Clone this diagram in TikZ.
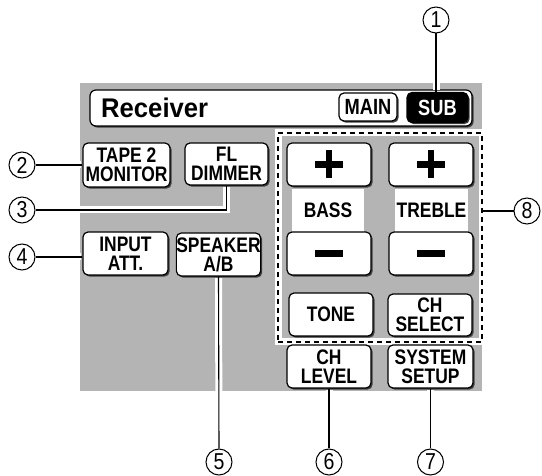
\documentclass[tikz,border=0pt]{standalone}
\usepackage{fontspec}
\setmainfont{Liberation Sans}
\newfontfamily\btnfont{Liberation Sans}[FakeStretch=0.83]
\newfontfamily\rcvfont{Liberation Sans}[FakeStretch=0.95]
\newfontfamily\numfont{Liberation Sans}[FakeStretch=0.85]
\usetikzlibrary{positioning,shadows}
\definecolor{panelgray}{RGB}{180,180,180}

\begin{document}
\begin{tikzpicture}[%
    x=1pt,y=-1pt,
    btn/.style={draw,fill=white,rounded corners=5pt,line width=1.2pt,align=center,
        inner sep=0pt,minimum width=84pt,minimum height=43pt,
        font={\btnfont\bfseries\fontsize{21}{19}\selectfont},
        drop shadow={shadow xshift=1.6pt,shadow yshift=-1.6pt,fill=black!75,opacity=1}},
    lblbg/.style={fill=white,inner sep=0pt,minimum width=72pt,minimum height=43pt,
        font={\btnfont\bfseries\fontsize{21}{19}\selectfont}},
    numcirc/.style={circle,draw,fill=white,line width=1pt,minimum size=26pt,inner sep=0pt,
        font={\numfont\fontsize{23}{23}\selectfont}},
    grpbox/.style={draw,line width=1.2pt,dash pattern=on 5pt off 4pt,inner sep=0pt,
        preaction={draw=white,solid,line width=7pt}},
    signbar/.style={line width=6.5pt},
    halo/.style={white,line width=7pt,shorten <=1.5pt,shorten >=1.5pt},
    lead/.style={black,line width=1.1pt}
]
\useasboundingbox (0,0) rectangle (542,476);

% ---------------- Panel and title bar ----------------
\fill[panelgray] (80,83) rectangle (482,391);

\node[btn,minimum width=382pt,minimum height=36pt,rounded corners=6pt] (title) at (281,108) {};
\node[anchor=west,inner sep=0pt,font={\rcvfont\bfseries\fontsize{27}{27}\selectfont}] (rcv) at (101,108) {Receiver};
\node[btn,minimum width=58pt,minimum height=28pt,font={\btnfont\bfseries\fontsize{22}{22}\selectfont}] (main) at (368,107) {MAIN};
\node[btn,fill=black,text=white,minimum width=61pt,minimum height=30pt,font={\btnfont\bfseries\fontsize{22}{22}\selectfont}] (sub) at (437.5,107.5) {SUB};

% ---------------- Tone group (dashed) ----------------
\node[grpbox,minimum width=204pt,minimum height=209pt] (grp) at (380,237.5) {};

\node[btn] (bassup) at (329,164.5) {};
\node[btn] (trebup) at (431,164.5) {};
\node[lblbg] (basslbl) at (328,210.5) {BASS};
\node[lblbg,minimum width=73pt] (treblbl) at (431.5,210.5) {TREBLE};
\node[btn] (bassdn) at (329,253.5) {};
\node[btn] (trebdn) at (431,253.5) {};
\node[btn] (tone) at (331,314.5) {TONE};
\node[btn,minimum height=42pt] (chsel) at (430,315) {CH\\SELECT};

\foreach \b in {bassup,trebup} {
    \draw[signbar] (\b.center) +(-14,0) -- +(14,0) (\b.center) +(0,-14) -- +(0,14);
}
\foreach \b in {bassdn,trebdn} {
    \draw[signbar] (\b.center) +(-14,0) -- +(14,0);
}

% ---------------- Other buttons ----------------
\node[btn,minimum width=87pt,minimum height=44pt] (tape) at (126.5,165) {TAPE 2\\MONITOR};
\node[btn,minimum width=83pt,minimum height=42pt] (dimmer) at (226.5,164) {FL\\DIMMER};
\node[btn,minimum width=85pt] (inatt) at (125.5,253.5) {INPUT\\ATT.};
\node[btn,minimum width=83pt] (spkr) at (218.5,254.5) {SPEAKER\\A/B};
\node[btn] (chlvl) at (329,366.5) {CH\\LEVEL};
\node[btn,minimum width=85pt] (setup) at (430.5,366.5) {SYSTEM\\SETUP};

% ---------------- Callout numbers ----------------
\node[numcirc] (c1) at (436,20) {1};
\node[numcirc] (c2) at (22,165) {2};
\node[numcirc] (c3) at (22,210) {3};
\node[numcirc] (c4) at (22,257) {4};
\node[numcirc] (c5) at (219,462) {5};
\node[numcirc] (c6) at (329,462) {6};
\node[numcirc] (c7) at (430.5,462) {7};
\node[numcirc] (c8) at (527,211) {8};

% ---------------- Leader lines ----------------
\foreach \sty in {halo,lead} {
    \draw[\sty] (c1.south) -- (c1.south |- sub.north);
    \draw[\sty] (c2.east) -- (c2.east -| tape.west);
    \draw[\sty] (c3.east) -| (dimmer.south);
    \draw[\sty] (c4.east) -- (c4.east -| inatt.west);
    \draw[\sty] (spkr.south) -- (c5.north);
    \draw[\sty] (chlvl.south) -- (c6.north);
    \draw[\sty] (setup.south) -- (c7.north);
    \draw[\sty] (c8.west) -- (c8.west -| grp.east);
}

\end{tikzpicture}
\end{document}
